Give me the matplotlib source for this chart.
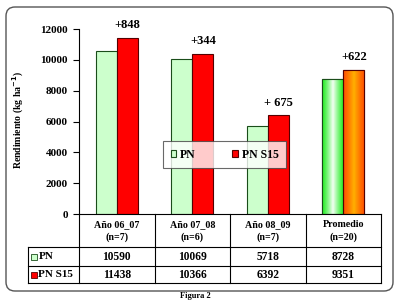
import matplotlib
matplotlib.use('Agg')
import matplotlib.pyplot as plt
import numpy as np
from matplotlib.patches import FancyBboxPatch, Rectangle
from matplotlib.lines import Line2D
import matplotlib.transforms as mtrans

categories = ['Año 06_07\n(n=7)', 'Año 07_08\n(n=6)', 'Año 08_09\n(n=7)', 'Promedio\n(n=20)']
pn = [10590, 10069, 5718, 8728]
pn_s15 = [11438, 10366, 6392, 9351]
diff_labels = ['+848', '+344', '+ 675', '+622']
series_names = ['PN', 'PN S15']
yticks = [0, 2000, 4000, 6000, 8000, 10000, 12000]

plt.rcParams['font.family'] = ['Liberation Serif', 'DejaVu Serif']
plt.rcParams['font.weight'] = 'bold'
plt.rcParams['mathtext.default'] = 'bf'

W, H = 400, 300
fig = plt.figure(figsize=(4, 3), dpi=100)
fig.patch.set_facecolor('white')

def fx(x): return x / W
def fy(y): return 1 - y / H

# overlay in pixel coords
ov = fig.add_axes([0, 0, 1, 1], zorder=0)
ov.set_xlim(0, W); ov.set_ylim(H, 0); ov.axis('off')
ov.add_patch(FancyBboxPatch((6, 7), 387, 284, boxstyle='round,pad=0,rounding_size=9',
                            fc='white', ec='#555555', lw=1.0))

ax = fig.add_axes([fx(79), fy(214), fx(381) - fx(79), fy(29) - fy(214)], zorder=2)
ax.patch.set_alpha(0)
x = np.arange(len(categories))
w = 0.28
green = '#CCFFCC'
red = '#FF0000'
b1 = ax.bar(x - w / 2, pn, w, color=green, edgecolor='#1a4d1a', lw=0.8, zorder=2)
b2 = ax.bar(x + w / 2, pn_s15, w, color=red, edgecolor='#550000', lw=0.8, zorder=2)

def gradient(bar, edge, center):
    xb, yb = bar.get_x(), bar.get_y()
    wb, hb = bar.get_width(), bar.get_height()
    t = np.linspace(0, 1, 64)
    k = (1 - np.abs(2 * t - 1)) ** 1.2
    e = np.array(matplotlib.colors.to_rgb(edge)); c = np.array(matplotlib.colors.to_rgb(center))
    img = e[None, :] * (1 - k[:, None]) + c[None, :] * k[:, None]
    im = ax.imshow(img[None, :, :], extent=[xb, xb + wb, yb, yb + hb], aspect='auto',
                   zorder=2.5, interpolation='bilinear')
    im.set_clip_path(bar)

gradient(b1[3], '#22EE22', '#F4FFF4')
gradient(b2[3], '#FF5000', '#FFB000')
for b in (b1[3], b2[3]):
    ov_patch = Rectangle((b.get_x(), 0), b.get_width(), b.get_height(), fill=False,
                         ec=b.get_edgecolor(), lw=0.8, zorder=3)
    ax.add_patch(ov_patch)

ax.set_xlim(-0.5, len(categories) - 0.5)
ax.set_ylim(0, 12000)
ax.set_yticks(yticks)
ax.set_yticklabels([str(v) for v in yticks], fontsize=8, fontweight='bold')
ax.set_xticks([])
ax.tick_params(axis='y', direction='out', length=4, width=0.8, pad=4)
for s in ['top', 'right', 'bottom']:
    ax.spines[s].set_visible(False)
ax.spines['left'].set_linewidth(0.8)

for xi, v, lab in zip(x, pn_s15, diff_labels):
    ax.annotate(lab, (xi + w / 2, v), xytext=(0, 5), textcoords='offset points',
                ha='center', va='bottom', fontsize=9, fontweight='bold')

fig.text(fx(18), fy(120), 'Rendimiento (kg ha$^{-1}$)', rotation=90, ha='center',
         va='center', fontsize=7, fontweight='bold')

# legend
leg = ax.legend([b1[0], b2[0]], series_names, ncol=2, loc='center',
                bbox_to_anchor=(fx(224.5), fy(154.5)), bbox_transform=fig.transFigure,
                fontsize=8.5, frameon=True, fancybox=False, edgecolor='#444444',
                handlelength=0.5, handleheight=0.5, handletextpad=0.3,
                columnspacing=3.1, borderpad=0.6, borderaxespad=0)
leg.get_frame().set_linewidth(0.8)
leg.set_zorder(5)

# table
tab = fig.add_axes([0, 0, 1, 1], zorder=3)
tab.set_xlim(0, W); tab.set_ylim(H, 0); tab.axis('off')
tr = mtrans.blended_transform_factory(ax.transData, tab.transData)
y_top, y_r1, y_r2, y_bot = 214, 247, 266, 283
lk = dict(color='black', lw=0.8, transform=tr)
tab.add_line(Line2D([-0.5, len(categories) - 0.5], [y_top, y_top], **lk))
x_left = ax.transData.inverted().transform(tab.transData.transform((28, 0)))[0]
for yy in (y_r1, y_r2, y_bot):
    tab.add_line(Line2D([x_left, len(categories) - 0.5], [yy, yy], **lk))
for i in range(len(categories) + 1):
    tab.add_line(Line2D([i - 0.5, i - 0.5], [y_top, y_bot], **lk))
tab.add_line(Line2D([x_left, x_left], [y_r1, y_bot], **lk))

for xi, c in zip(x, categories):
    tab.text(xi, (y_top + y_r1) / 2 + 0.5, c, transform=tr, ha='center', va='center',
             fontsize=7.2, fontweight='bold', linespacing=1.55)
for xi, a, b in zip(x, pn, pn_s15):
    tab.text(xi, (y_r1 + y_r2) / 2, str(a), transform=tr, ha='center', va='center',
             fontsize=8.3, fontweight='bold')
    tab.text(xi, (y_r2 + y_bot) / 2, str(b), transform=tr, ha='center', va='center',
             fontsize=8.3, fontweight='bold')
for yy, name, col, ec in (((y_r1 + y_r2) / 2, series_names[0], green, '#1a4d1a'),
                          ((y_r2 + y_bot) / 2, series_names[1], red, '#550000')):
    tab.add_patch(Rectangle((31, yy - 3), 6, 6, fc=col, ec=ec, lw=0.6))
    tab.text(38.5, yy, name, ha='left', va='center', fontsize=8, fontweight='bold')

fig.text(fx(195), fy(299.5), 'Figura 2', ha='center', va='bottom', fontsize=6, fontweight='bold')

fig.savefig('out.png', dpi=100)
